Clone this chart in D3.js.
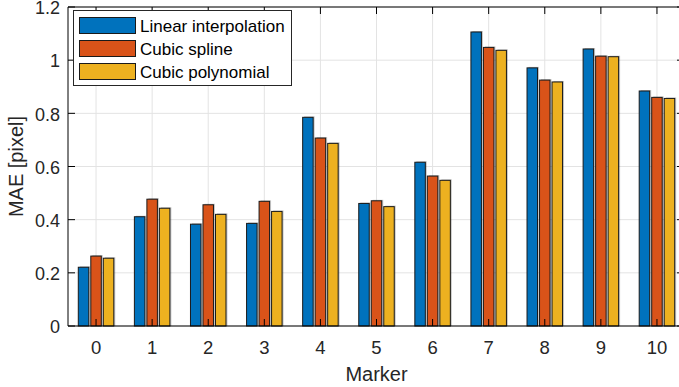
<!DOCTYPE html>
<html>
<head>
<meta charset="utf-8">
<script src="https://cdn.jsdelivr.net/npm/d3@7"></script>
<style>
  body { margin: 0; background: #fff; }
  svg { display: block; font-family: "Liberation Sans", Arial, sans-serif; }
</style>
</head>
<body>
<div id="chart"></div>
<script>
// data
var markers = [0, 1, 2, 3, 4, 5, 6, 7, 8, 9, 10];
var seriesNames = ['Linear interpolation', 'Cubic spline', 'Cubic polynomial'];
var linear = [0.221, 0.411, 0.383, 0.386, 0.785, 0.461, 0.616, 1.106, 0.971, 1.042, 0.884];
var spline = [0.263, 0.477, 0.456, 0.469, 0.707, 0.471, 0.564, 1.048, 0.925, 1.015, 0.860];
var poly   = [0.255, 0.443, 0.420, 0.431, 0.687, 0.449, 0.548, 1.037, 0.918, 1.013, 0.856];
var yTicks = [0, 0.2, 0.4, 0.6, 0.8, 1, 1.2];
var colors = ['#0072BD', '#D95319', '#EDB120'];

var series = [linear, spline, poly];

var chart_width = 679;
var chart_height = 387;
// plot box (right edge runs past the window, the figure was cropped)
var pLeft = 68, pRight = 685, pTop = 7, pBottom = 326;

var svg = d3.select('#chart')
  .append('svg')
  .attr('width', chart_width)
  .attr('height', chart_height);

var x_scale = d3.scaleLinear()
  .domain([-0.5, 10.5])
  .range([pLeft, pRight]);

var y_scale = d3.scaleLinear()
  .domain([0, 1.2])
  .range([pBottom, pTop]);

// grid
svg.append('g')
  .selectAll('line')
  .data(yTicks)
  .enter()
  .append('line')
  .attr('x1', pLeft).attr('x2', pRight)
  .attr('y1', function(d) { return y_scale(d); })
  .attr('y2', function(d) { return y_scale(d); })
  .attr('stroke', '#e3e3e3')
  .attr('stroke-width', 1);

svg.append('g')
  .selectAll('line')
  .data(markers)
  .enter()
  .append('line')
  .attr('x1', function(d) { return x_scale(d); })
  .attr('x2', function(d) { return x_scale(d); })
  .attr('y1', pTop).attr('y2', pBottom)
  .attr('stroke', '#e3e3e3')
  .attr('stroke-width', 1);

// bars
var offset = 0.223;   // group offset in marker units
var barW = x_scale(0.187) - x_scale(0);

series.forEach(function(vals, s) {
  var g = svg.append('g');
  // soft shadow
  g.selectAll('rect.shadow')
    .data(vals)
    .enter()
    .append('rect')
    .attr('class', 'shadow')
    .attr('x', function(d, i) { return x_scale(markers[i] + (s - 1) * offset) - barW / 2 + 1.5; })
    .attr('y', function(d) { return y_scale(d) - 1; })
    .attr('width', barW)
    .attr('height', function(d) { return y_scale(0) - y_scale(d) + 1; })
    .attr('fill', '#000')
    .attr('opacity', 0.22);
  g.selectAll('rect.bar')
    .data(vals)
    .enter()
    .append('rect')
    .attr('class', 'bar')
    .attr('x', function(d, i) { return x_scale(markers[i] + (s - 1) * offset) - barW / 2; })
    .attr('y', function(d) { return y_scale(d); })
    .attr('width', barW)
    .attr('height', function(d) { return y_scale(0) - y_scale(d); })
    .attr('fill', colors[s])
    .attr('stroke', '#1a1a1a')
    .attr('stroke-width', 1);
});

// axes box + ticks
var axes = svg.append('g').attr('stroke', '#000').attr('stroke-width', 1);
axes.append('line').attr('x1', pLeft).attr('x2', pRight).attr('y1', pBottom).attr('y2', pBottom);
axes.append('line').attr('x1', pLeft).attr('x2', pRight).attr('y1', pTop).attr('y2', pTop);
axes.append('line').attr('x1', pLeft).attr('x2', pLeft).attr('y1', pTop).attr('y2', pBottom);

var tl = 7;
markers.forEach(function(m) {
  var xx = x_scale(m);
  axes.append('line').attr('x1', xx).attr('x2', xx).attr('y1', pBottom).attr('y2', pBottom - tl);
  axes.append('line').attr('x1', xx).attr('x2', xx).attr('y1', pTop).attr('y2', pTop + tl);
});
yTicks.forEach(function(t) {
  var yy = y_scale(t);
  axes.append('line').attr('x1', pLeft).attr('x2', pLeft + tl).attr('y1', yy).attr('y2', yy);
  axes.append('line').attr('x1', chart_width).attr('x2', chart_width - 2).attr('y1', yy).attr('y2', yy);
});

// tick labels
svg.append('g')
  .selectAll('text')
  .data(markers)
  .enter()
  .append('text')
  .text(function(d) { return d; })
  .attr('x', function(d) { return x_scale(d); })
  .attr('y', 353.5)
  .attr('text-anchor', 'middle')
  .attr('font-size', 18.5)
  .attr('fill', '#262626');

svg.append('g')
  .selectAll('text')
  .data(yTicks)
  .enter()
  .append('text')
  .text(function(d) { return d; })
  .attr('x', 60)
  .attr('y', function(d) { return y_scale(d) + 7.3; })
  .attr('text-anchor', 'end')
  .attr('font-size', 18)
  .attr('fill', '#262626');

// axis labels
svg.append('text')
  .text('Marker')
  .attr('x', (pLeft + pRight) / 2)
  .attr('y', 381)
  .attr('text-anchor', 'middle')
  .attr('font-size', 20)
  .attr('fill', '#262626');

svg.append('text')
  .text('MAE [pixel]')
  .attr('transform', 'translate(23,' + ((pTop + pBottom) / 2) + ') rotate(-90)')
  .attr('text-anchor', 'middle')
  .attr('font-size', 20)
  .attr('fill', '#262626');

// legend
var legend = svg.append('g');
legend.append('rect')
  .attr('x', 73.5).attr('y', 10.5)
  .attr('width', 218).attr('height', 75)
  .attr('fill', '#fff')
  .attr('stroke', '#262626')
  .attr('stroke-width', 1);

var rows = legend.selectAll('g.row')
  .data(seriesNames)
  .enter()
  .append('g')
  .attr('transform', function(d, i) { return 'translate(0,' + (i * 23) + ')'; });

rows.append('rect')
  .attr('x', 79.5).attr('y', 17.5)
  .attr('width', 56).attr('height', 16)
  .attr('fill', function(d, i) { return colors[i]; })
  .attr('stroke', '#1a1a1a')
  .attr('stroke-width', 1);

rows.append('text')
  .text(function(d) { return d; })
  .attr('x', 140)
  .attr('y', 31.5)
  .attr('font-size', 17)
  .attr('fill', '#000');
</script>
</body>
</html>
